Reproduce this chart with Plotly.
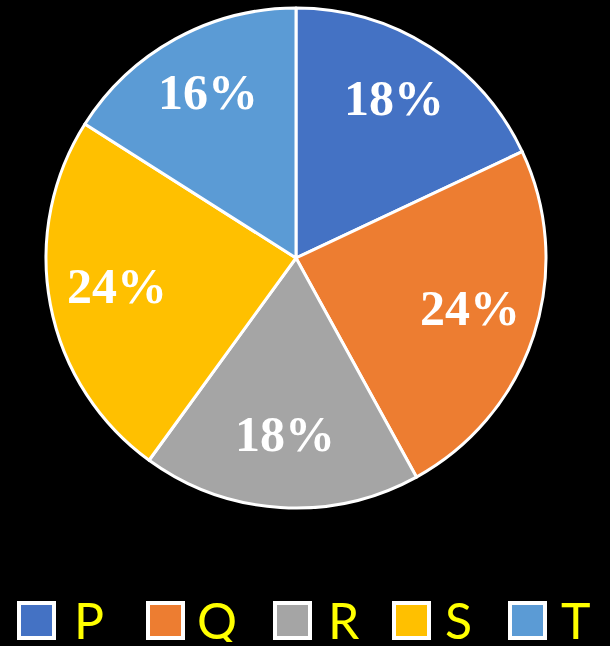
import math
import plotly.graph_objects as go

categories = ["P", "Q", "R", "S", "T"]
shares = [18, 24, 18, 24, 16]
colors = ["#4472C4", "#ED7D31", "#A5A5A5", "#FFC000", "#5B9BD5"]

W, H = 610, 646
cx, cy, r = 296, 258, 250

fig = go.Figure(go.Pie(
    labels=categories,
    values=shares,
    sort=False,
    direction="clockwise",
    rotation=0,
    marker=dict(colors=colors, line=dict(color="white", width=3)),
    textinfo="none",
    showlegend=False,
    hoverinfo="label+percent",
    domain=dict(x=[(cx - r) / W, (cx + r) / W], y=[1 - (cy + r) / H, 1 - (cy - r) / H]),
))

annotations = []
shapes = []

# percentage labels placed at the middle angle of each slice
total = sum(shares)
label_r = 0.73 * r
cum = 0
for v in shares:
    mid = (cum + v / 2) / total * 2 * math.pi
    cum += v
    lx = cx + label_r * math.sin(mid)
    ly = cy - label_r * math.cos(mid) - 6
    annotations.append(dict(
        text=f"{round(v / total * 100)}%", xref="paper", yref="paper",
        x=lx / W, y=1 - ly / H, xanchor="center", yanchor="middle",
        showarrow=False,
        font=dict(family="Liberation Serif", size=50, color="white", weight="bold"),
    ))

# custom legend (large squares + yellow letters)
sq_left = [17, 146, 273, 392, 508]
txt_left = [72, 195, 326, 443, 559]
sq_size = 39
sq_top = 601
for i, (cat, col) in enumerate(zip(categories, colors)):
    x0 = sq_left[i]
    shapes.append(dict(
        type="rect", xref="paper", yref="paper",
        x0=(x0 + 2) / W, x1=(x0 + sq_size - 2) / W,
        y0=1 - (sq_top + sq_size - 2) / H, y1=1 - (sq_top + 2) / H,
        fillcolor=col, line=dict(color="white", width=4),
    ))
    annotations.append(dict(
        text=cat, xref="paper", yref="paper",
        x=txt_left[i] / W, y=1 - 620 / H,
        xanchor="left", yanchor="middle", showarrow=False,
        height=44, valign="middle",
        font=dict(family="Lato", size=50, color="#FFFF00"),
    ))

fig.update_layout(
    width=W, height=H,
    margin=dict(l=0, r=0, t=0, b=0),
    paper_bgcolor="black",
    plot_bgcolor="black",
    shapes=shapes,
    annotations=annotations,
)

fig.write_html(
    "out.html",
    config={"displayModeBar": False},
    post_script="document.body.style.margin='0';document.body.style.background='black';",
)
